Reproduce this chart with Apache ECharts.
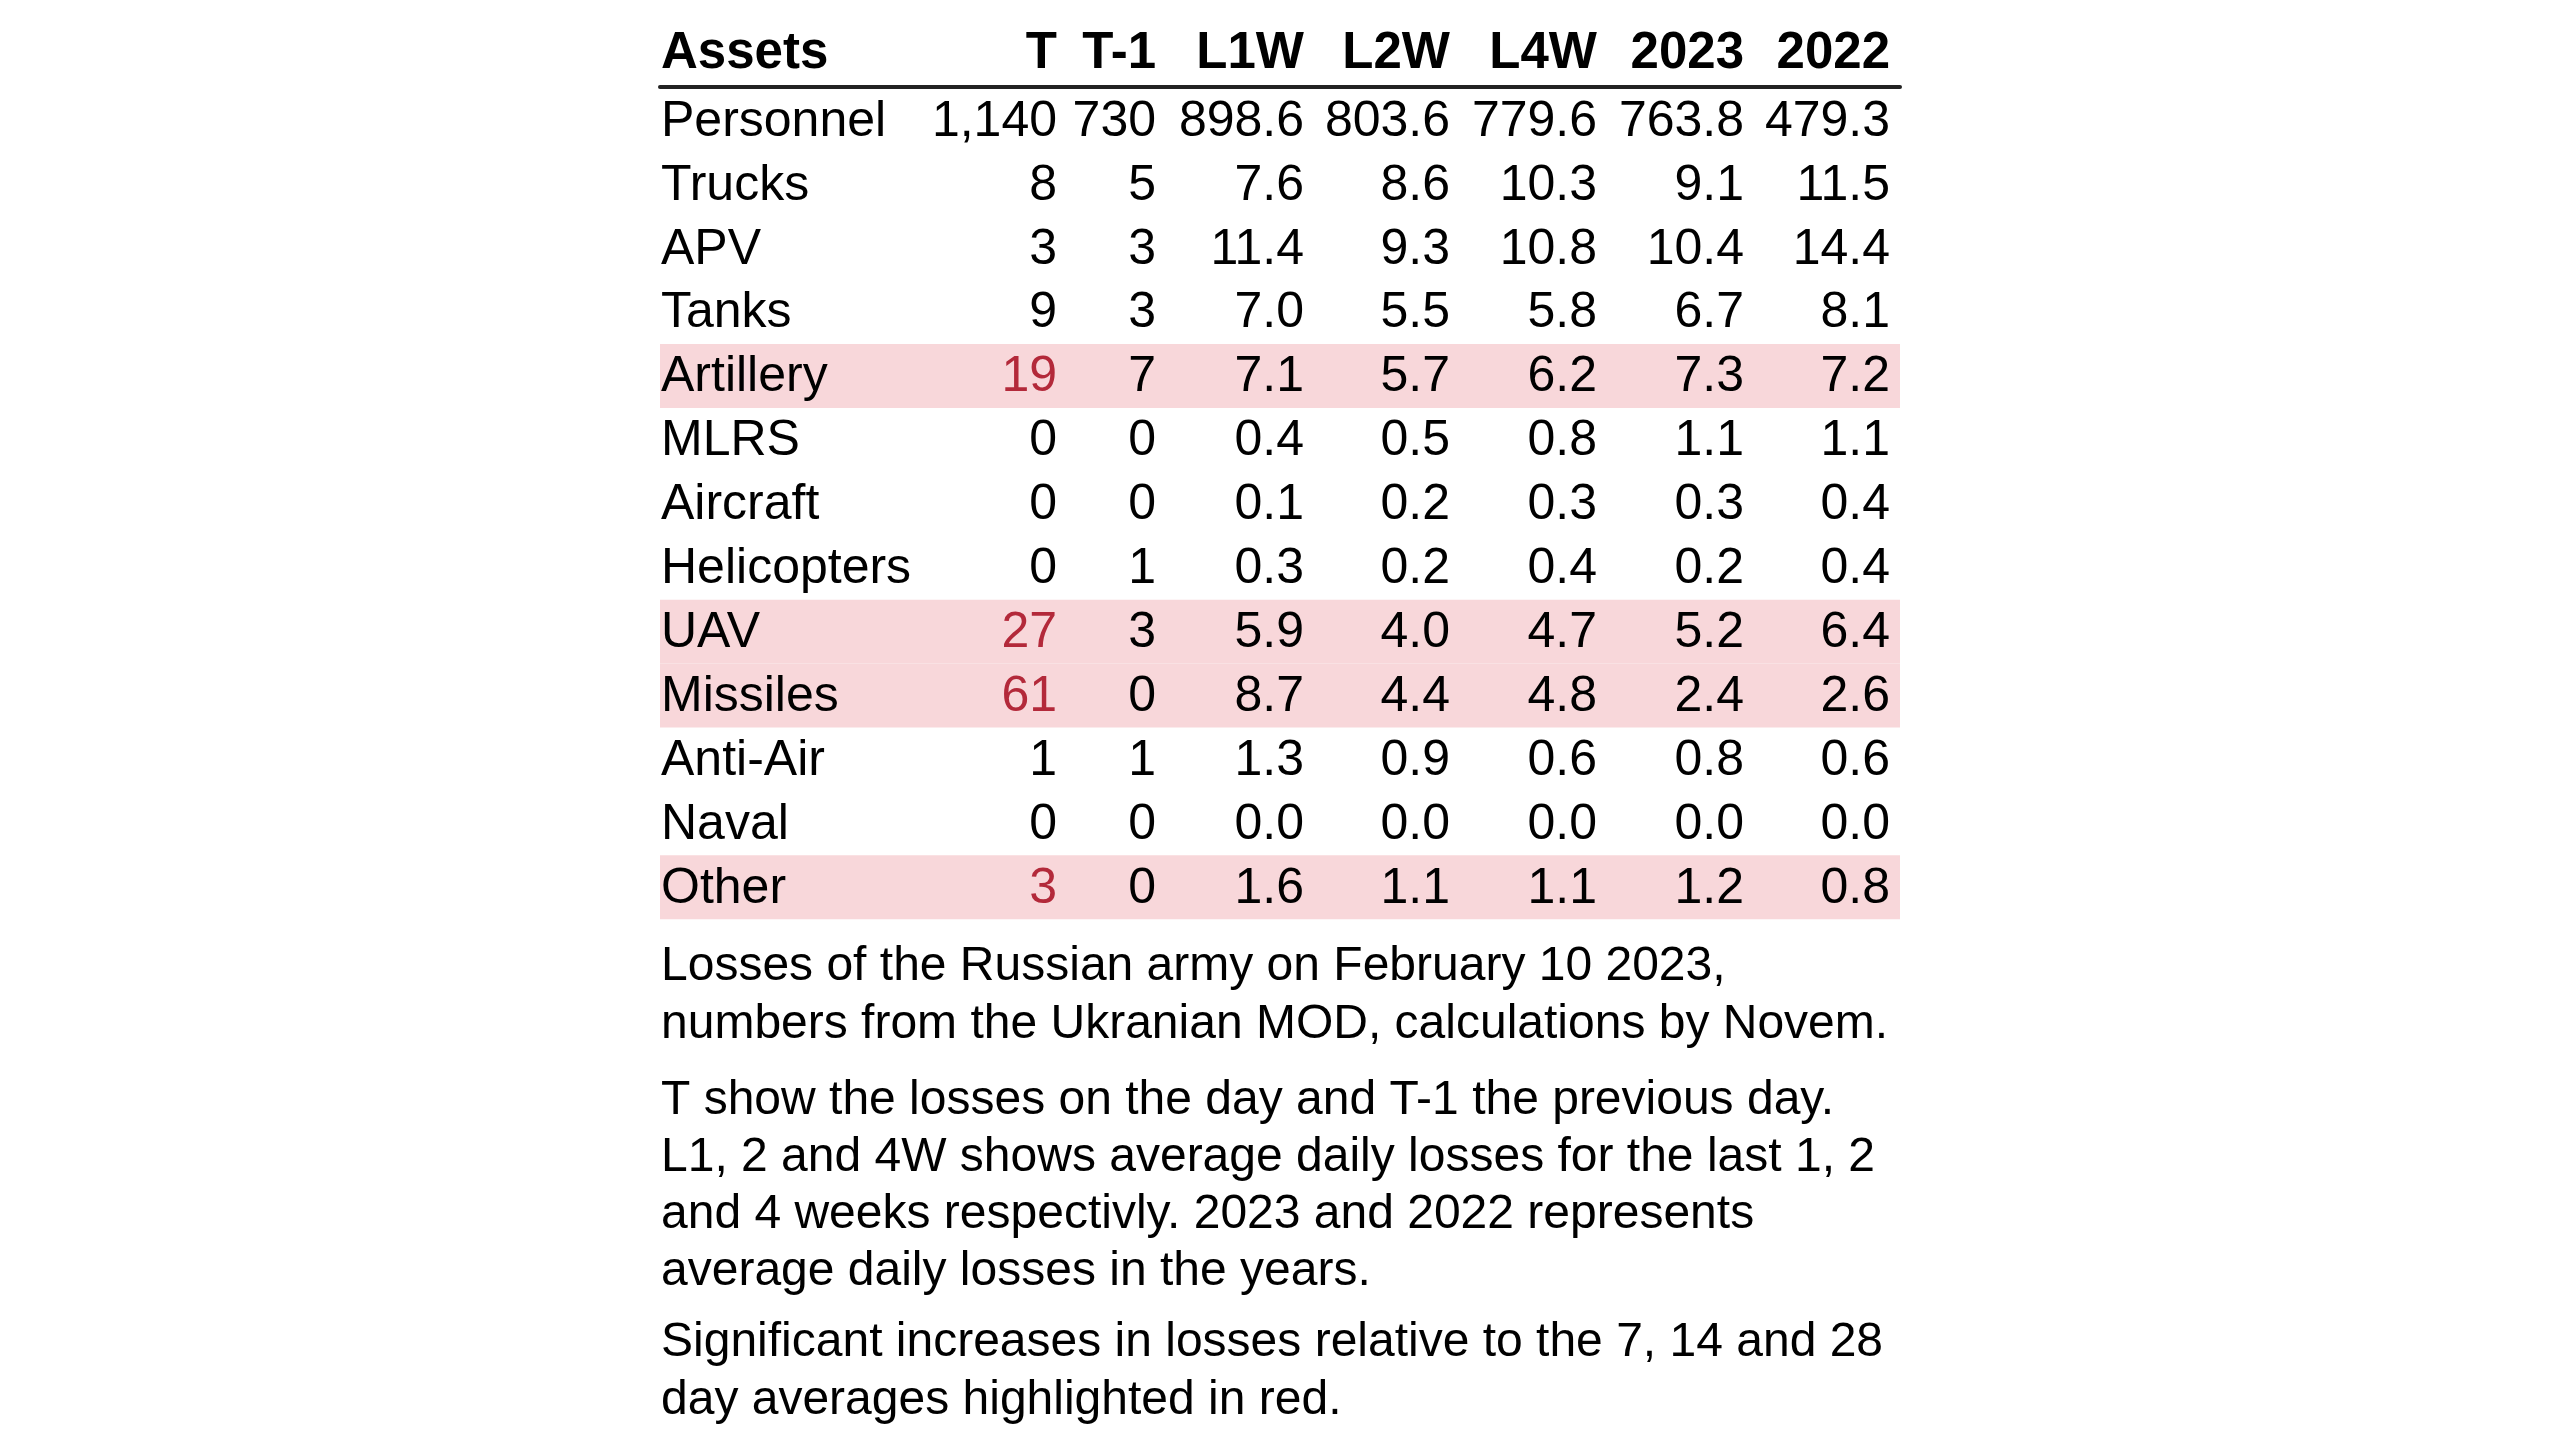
<!DOCTYPE html>
<html>
<head>
<meta charset="utf-8">
<script src="https://cdn.jsdelivr.net/npm/echarts@6.0.0/dist/echarts.min.js"></script>
<style>
  html, body { margin: 0; padding: 0; background: #ffffff; }
  #chart { width: 2560px; height: 1440px; }
</style>
</head>
<body>
<div id="chart"></div>
<script>
// ---- data ----
const headers = ['Assets', 'T', 'T-1', 'L1W', 'L2W', 'L4W', '2023', '2022'];
const assets = ['Personnel', 'Trucks', 'APV', 'Tanks', 'Artillery', 'MLRS', 'Aircraft',
  'Helicopters', 'UAV', 'Missiles', 'Anti-Air', 'Naval', 'Other'];
const colT    = [1140, 8, 3, 9, 19, 0, 0, 0, 27, 61, 1, 0, 3];
const colT1   = [730, 5, 3, 3, 7, 0, 0, 1, 3, 0, 1, 0, 0];
const colL1W  = [898.6, 7.6, 11.4, 7.0, 7.1, 0.4, 0.1, 0.3, 5.9, 8.7, 1.3, 0.0, 1.6];
const colL2W  = [803.6, 8.6, 9.3, 5.5, 5.7, 0.5, 0.2, 0.2, 4.0, 4.4, 0.9, 0.0, 1.1];
const colL4W  = [779.6, 10.3, 10.8, 5.8, 6.2, 0.8, 0.3, 0.4, 4.7, 4.8, 0.6, 0.0, 1.1];
const col2023 = [763.8, 9.1, 10.4, 6.7, 7.3, 1.1, 0.3, 0.2, 5.2, 2.4, 0.8, 0.0, 1.2];
const col2022 = [479.3, 11.5, 14.4, 8.1, 7.2, 1.1, 0.4, 0.4, 6.4, 2.6, 0.6, 0.0, 0.8];
const highlightedRows = ['Artillery', 'UAV', 'Missiles', 'Other'];
const notes = [
  'Losses of the Russian army on February 10 2023,\nnumbers from the Ukranian MOD, calculations by Novem.',
  'T show the losses on the day and T-1 the previous day.\nL1, 2 and 4W shows average daily losses for the last 1, 2\nand 4 weeks respectivly. 2023 and 2022 represents\naverage daily losses in the years.',
  'Significant increases in losses relative to the 7, 14 and 28\nday averages highlighted in red.'
];

// ---- layout (not data) ----
const tableWidth = 1240;
const nameEdge = 1;
const colEdges = [397, 496, 644, 790, 937, 1084, 1230];
const columns = [colT, colT1, colL1W, colL2W, colL4W, col2023, col2022];
const intCols = [true, true, false, false, false, false, false];
const FONT = '"Liberation Sans", Arial, sans-serif';
const RED = '#b3293a';
const PINK = '#f8d7da';
const TEXT_SHIFT = 1.5;
const noteTops = [938, 1072.5, 1314];
const noteLineHeights = [58, 57, 58];

function fmt(v, isInt) {
  if (isInt) return v.toLocaleString('en-US');
  return v.toFixed(1);
}

const chart = echarts.init(document.getElementById('chart'), null, { renderer: 'canvas' });

const headerPositions = [nameEdge].concat(colEdges);

const option = {
  backgroundColor: '#ffffff',
  animation: false,
  title: notes.map((t, k) => ({
    text: t,
    left: 661,
    top: noteTops[k],
    padding: 0,
    textStyle: { fontFamily: 'Liberation Sans', fontSize: 48, fontWeight: 'normal', color: '#000', lineHeight: noteLineHeights[k] }
  })),
  grid: { left: 660, width: tableWidth, top: 88.5, height: 830.7, containLabel: false },
  xAxis: {
    type: 'value', min: 0, max: tableWidth, position: 'top', offset: 2,
    axisLine: { show: true, lineStyle: { color: '#222', width: 4 } },
    axisTick: { show: false },
    splitLine: { show: false },
    axisLabel: {
      customValues: headerPositions,
      formatter: function (v) {
        const idx = headerPositions.indexOf(v);
        return idx >= 0 ? headers[idx] : '';
      },
      align: 'right', alignMinLabel: 'left', alignMaxLabel: 'right',
      verticalAlign: 'middle',
      margin: 33,
      fontFamily: 'Liberation Sans', fontSize: 51, fontWeight: 'bold', color: '#000'
    }
  },
  yAxis: {
    type: 'category', data: assets, inverse: true, show: false
  },
  series: [
    {
      type: 'bar',
      silent: true,
      barWidth: '100%',
      barCategoryGap: 0,
      itemStyle: { color: PINK },
      data: assets.map(a => highlightedRows.indexOf(a) >= 0 ? tableWidth : '-'),
      z: 1
    },
    {
      type: 'custom',
      silent: true,
      z: 5,
      data: assets.map((a, i) => [0, i]),
      encode: { x: 0, y: 1 },
      renderItem: function (params, api) {
        const i = api.value(1);
        const hl = highlightedRows.indexOf(assets[i]) >= 0;
        const children = [];
        const p0 = api.coord([nameEdge, i]);
        children.push({
          type: 'text',
          style: { x: p0[0], y: p0[1] + TEXT_SHIFT, text: assets[i], fill: '#000',
            font: '50px ' + FONT, align: 'left', verticalAlign: 'middle' }
        });
        columns.forEach(function (col, c) {
          const p = api.coord([colEdges[c], i]);
          children.push({
            type: 'text',
            style: { x: p[0], y: p[1] + TEXT_SHIFT, text: fmt(col[i], intCols[c]),
              fill: (hl && c === 0) ? RED : '#000',
              font: '50px ' + FONT, align: 'right', verticalAlign: 'middle' }
          });
        });
        return { type: 'group', children: children };
      }
    }
  ]
};
chart.setOption(option);
</script>
</body>
</html>
